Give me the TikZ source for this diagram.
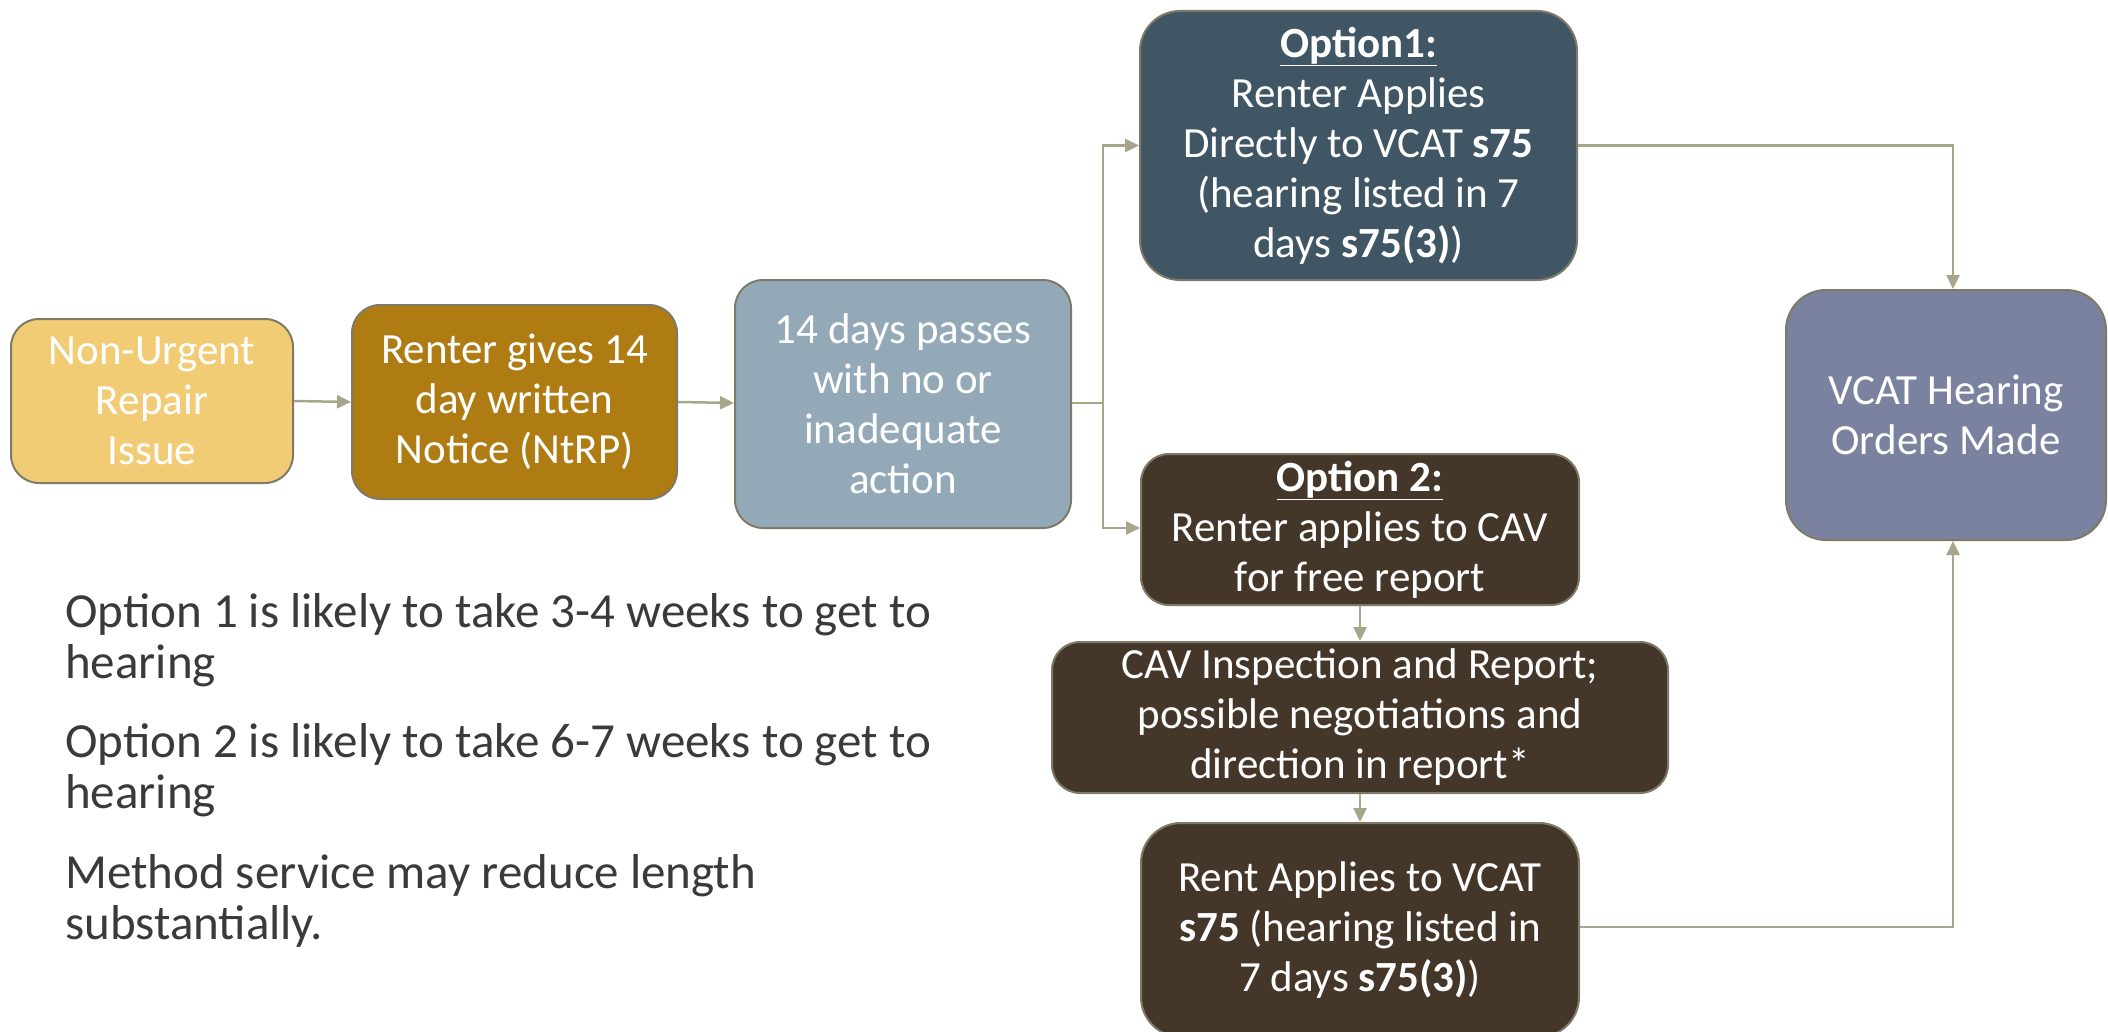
\documentclass[tikz,border=0pt]{standalone}
\usepackage{fontspec}
\setmainfont{Carlito}
\usetikzlibrary{arrows.meta}
\definecolor{cA}{HTML}{F2CB75}
\definecolor{cB}{HTML}{AE7C12}
\definecolor{cC}{HTML}{94A9B8}
\definecolor{cO}{HTML}{415664}
\definecolor{cD}{HTML}{45362A}
\definecolor{cV}{HTML}{7A829F}
\definecolor{edge}{HTML}{7E7A68}
\definecolor{conn}{HTML}{A9A58B}
\definecolor{note}{HTML}{3A3A3A}
\tikzset{
  box/.style={draw=edge, line width=2pt, rounded corners=28pt, align=center, text=white,
    font=\fontsize{43}{50}\selectfont, inner sep=0pt},
  conn/.style={draw=conn, line width=2.5pt, -{Triangle[length=14pt,width=13pt]}},
  notetext/.style={anchor=base west, align=left, text=note, font=\fontsize{49}{51}\selectfont, inner sep=0pt}
}
\begin{document}
\begin{tikzpicture}[x=1pt,y=-1pt]
\useasboundingbox (0,0) rectangle (2108,1032);
\node[box, fill=cA, minimum width=282pt, minimum height=164pt] (A) at (152,401) {Non-Urgent\\Repair\\Issue};
\node[box, fill=cB, minimum width=325pt, minimum height=194pt] (B) at (514.5,402) {Renter gives 14\\day written\\Notice (NtRP)};
\node[box, fill=cC, minimum width=336pt, minimum height=248pt] (C) at (903,404) {14 days passes\\with no or\\inadequate\\action};
\node[box, fill=cO, rounded corners=40pt, minimum width=437pt, minimum height=269pt] (O1) at (1358.5,145.5) {\textbf{\underline{Option1:}}\\Renter Applies\\Directly to VCAT \textbf{s75}\\(hearing listed in 7\\days \textbf{s75(3)})};
\node[box, fill=cD, minimum width=438pt, minimum height=151pt] (O2) at (1360,529.5) {\textbf{\underline{Option 2:}}\\Renter applies to CAV\\for free report};
\node[box, fill=cD, minimum width=616pt, minimum height=151pt] (CAV) at (1360,717.5) {CAV Inspection and Report;\\possible negotiations and\\direction in report*};
\node[box, fill=cD, rounded corners=40pt, minimum width=438pt, minimum height=214pt] (R) at (1360,930) {Rent Applies to VCAT\\\textbf{s75} (hearing listed in\\7 days \textbf{s75(3)})};
\node[box, fill=cV, rounded corners=40pt, minimum width=320pt, minimum height=250pt] (V) at (1946,415) {VCAT Hearing\\Orders Made};

\node[notetext] (n1) at (65,678) {Option 1 is likely to take 3-4 weeks to get to\\hearing};
\node[notetext] (n2) at (65,808) {Option 2 is likely to take 6-7 weeks to get to\\hearing};
\node[notetext] (n3) at (65,939) {Method service may reduce length\\substantially.};

\coordinate (split) at (1103,403);
\draw[conn] (A.east) -- (B.west);
\draw[conn] (B.east) -- ([yshift=1pt]C.west);
\draw[draw=conn, line width=2.5pt] (C.east |- split) -- (split);
\draw[conn] (split) |- (O1.west);
\draw[conn] (split) |- ([yshift=1.5pt]O2.west);
\draw[conn] (O1.east) -| ([xshift=7pt]V.north);
\draw[conn] (O2.south) -- (CAV.north);
\draw[conn] (CAV.south) -- (R.north);
\draw[conn] (R.east |- 0,927) -| ([xshift=7pt]V.south);
\end{tikzpicture}
\end{document}
